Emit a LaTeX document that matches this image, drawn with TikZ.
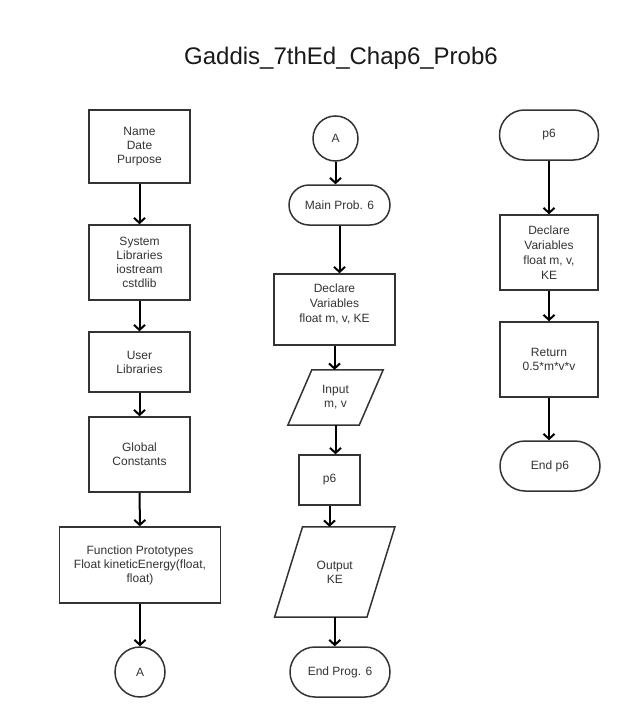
\documentclass[tikz,border=0pt]{standalone}
\usepackage{fontspec}
\setmainfont{Liberation Sans}
\usetikzlibrary{arrows.meta,calc}
\begin{document}
\begin{tikzpicture}[x=1pt,y=-1pt,
  txt/.style={align=center,text=black!80,font=\fontsize{12}{14}\selectfont,inner sep=0pt},
  box/.style={txt,draw=black!80,line width=1.5pt,rectangle},
  term/.style={box,rounded corners=#1},
  conn/.style={txt,draw=black!80,line width=1.5pt,circle},
  para/.style={txt,rectangle},
  pshape/.style={draw=black!80,line width=1.5pt,line join=miter},
  arr/.style={draw=black,line width=2pt,-{Straight Barb[length=5pt,width=11pt,line width=2pt]}}
]
\fill[white] (0,0) rectangle (626,717);
\useasboundingbox (0,0) rectangle (626,717);

\node[anchor=base,font=\fontsize{24}{28}\selectfont,text=black!90,inner sep=0pt] (title) at (341,64) {Gaddis\_7thEd\_Chap6\_Prob6};

% column 1
\node[box,minimum width=101pt,minimum height=73pt] (name) at (139.5,146.5) {Name\\Date\\Purpose};
\node[box,minimum width=101pt,minimum height=75pt] (sys) at (139.5,262.5) {System\\Libraries\\iostream\\cstdlib};
\node[box,minimum width=101pt,minimum height=60pt] (user) at (139.5,362) {User\\Libraries};
\node[box,minimum width=101pt,minimum height=75pt] (glob) at (139.5,454.5) {Global\\Constants};
\node[box,minimum width=161pt,minimum height=76pt] (proto) at (140,565) {Function Prototypes\\Float kineticEnergy(float,\\float)};
\node[conn,minimum size=50pt] (A1) at (140,672) {A};

\draw[arr] (name) -- (sys);
\draw[arr] (sys) -- (user);
\draw[arr] (user) -- (glob);
\draw[arr] (glob) -- (proto);
\draw[arr] (proto) -- (A1);

% column 2
\node[conn,minimum size=45pt] (A2) at (335.5,138.5) {A};
\node[term=20pt,minimum width=101pt,minimum height=40pt] (main) at (339.5,205) {Main Prob. 6};
\node[box,minimum width=121pt,minimum height=71pt,
      label={[txt,font=\fontsize{12}{15}\selectfont,yshift=6pt]center:Declare\\Variables\\float m, v, KE}] (decl) at (334.5,309.5) {};
\node[para,minimum width=71pt,minimum height=55pt] (in) at (335.5,397.5) {Input\\m, v};
\draw[pshape] ($(in.north west)+(12,0)$) -- ($(in.north east)+(12,0)$) -- ($(in.south east)+(-12,0)$) -- ($(in.south west)+(-12,0)$) -- cycle;
\node[box,minimum width=61pt,minimum height=50pt] (call) at (329.5,480) {p6};
\node[para,minimum width=92pt,minimum height=90pt] (out) at (334.75,572) {Output\\KE};
\draw[pshape] ($(out.north west)+(14,0)$) -- ($(out.north east)+(14,0)$) -- ($(out.south east)+(-14,0)$) -- ($(out.south west)+(-14,0)$) -- cycle;
\node[term=25pt,minimum width=100pt,minimum height=50pt] (endp) at (340,672) {End Prog. 6};

\draw[arr] (A2.south) -- (A2.south |- main.north);
\draw[arr] (main.south) -- (main.south |- decl.north);
\draw[arr] (decl.south) -- (decl.south |- in.north);
\draw[arr] (in.south) -- (in.south |- call.north);
\draw[arr] (call.south) -- (call.south |- out.north);
\draw[arr] (out.south) -- (out.south |- endp.north);

% column 3
\node[term=25pt,minimum width=99pt,minimum height=50pt] (fp6) at (549,135) {p6};
\node[box,minimum width=98pt,minimum height=75pt,font=\fontsize{12}{15}\selectfont] (fdecl) at (549,252.5) {Declare\\Variables\\float m, v,\\KE};
\node[box,minimum width=98pt,minimum height=75pt] (ret) at (549,359.5) {Return\\0.5*m*v*v};
\node[term=25pt,minimum width=100pt,minimum height=50pt] (fend) at (550,466) {End p6};

\draw[arr] (fp6.south) -- (fp6.south |- fdecl.north);
\draw[arr] (fdecl.south) -- (fdecl.south |- ret.north);
\draw[arr] (ret.south) -- (ret.south |- fend.north);
\end{tikzpicture}
\end{document}
